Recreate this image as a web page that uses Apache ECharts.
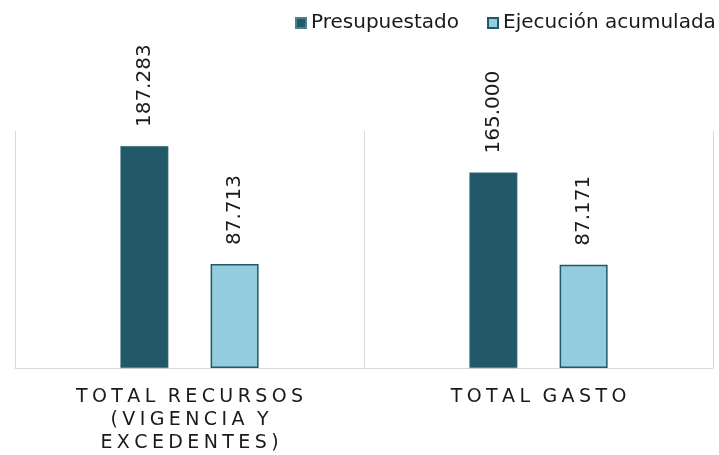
<!DOCTYPE html>
<html>
<head>
<meta charset="utf-8">
<script src="https://cdn.jsdelivr.net/npm/echarts@6/dist/echarts.min.js"></script>
<style>
  html, body { margin: 0; padding: 0; background: #fff; }
  #grafico { width: 719px; height: 455px; }
</style>
</head>
<body>
<div id="grafico"></div>
<script>
// datos
var categorias = ['TOTAL RECURSOS\n(VIGENCIA Y\nEXCEDENTES)', 'TOTAL GASTO'];
var presupuestado = [187.283, 165.000];
var ejecucion = [87.713, 87.171];

var dom = document.getElementById('grafico');
var myChart = echarts.init(dom);

// separa las letras para imitar el espaciado del original (los espacios quedan igual)
function espaciar(v) {
    return v.split('\n').map(function (linea) {
        return linea.split('').map(function (c) {
            return c === ' ' ? '{e| }' : '{s|' + c + '}';
        }).join('');
    }).join('\n');
}

function formatoValor(p) {
    return p.value.toFixed(3);
}

var etiqueta = {
    show: true,
    position: 'top',
    rotate: 90,
    align: 'left',
    verticalAlign: 'middle',
    distance: 19,
    fontFamily: 'DejaVu Sans',
    fontSize: 20,
    color: '#1a1a1a',
    formatter: formatoValor
};

var option = {
    animation: false,
    textStyle: { fontFamily: 'DejaVu Sans' },
    legend: {
        top: 13,
        left: 295,
        padding: 0,
        itemWidth: 10,
        itemHeight: 10,
        itemGap: 28,
        textStyle: { fontSize: 20, color: '#1a1a1a', padding: [0, 0, 0, 0] },
        data: [
            { name: 'Presupuestado', icon: 'rect' },
            { name: 'Ejecución acumulada', icon: 'rect' }
        ]
    },
    grid: {
        left: 15,
        right: 6,
        top: 131,
        bottom: 84
    },
    xAxis: {
        type: 'category',
        data: categorias,
        axisLine: { show: true, lineStyle: { color: '#d9d9d9', width: 1 } },
        axisTick: { show: false },
        splitLine: { show: true, interval: 0, lineStyle: { color: '#d9d9d9', width: 1 } },
        axisLabel: {
            interval: 0,
            margin: 18,
            lineHeight: 23,
            color: '#1a1a1a',
            formatter: espaciar,
            rich: {
                s: { fontSize: 19, fontFamily: 'DejaVu Sans', color: '#1a1a1a', padding: [0, 2.2, 0, 2.2], lineHeight: 23 },
                e: { fontSize: 19, fontFamily: 'DejaVu Sans', color: '#1a1a1a', padding: [0, 1, 0, 1], lineHeight: 23 }
            }
        }
    },
    yAxis: {
        type: 'value',
        min: 0,
        max: 200,
        show: false,
        splitLine: { show: false }
    },
    series: [
        {
            name: 'Presupuestado',
            type: 'bar',
            data: presupuestado,
            barWidth: 48,
            barGap: '88%',
            itemStyle: { color: '#215968', borderColor: '#4d7f8c', borderWidth: 0.5 },
            label: etiqueta
        },
        {
            name: 'Ejecución acumulada',
            type: 'bar',
            data: ejecucion,
            barWidth: 48,
            itemStyle: { color: '#93cddd', borderColor: '#215968', borderWidth: 1.5 },
            label: etiqueta
        }
    ]
};

myChart.setOption(option, true);
</script>
</body>
</html>
